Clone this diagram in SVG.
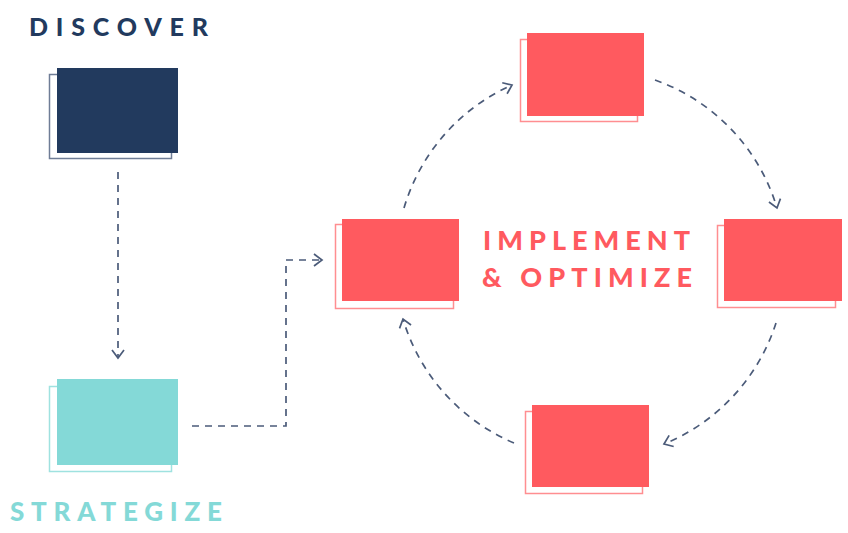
<svg xmlns="http://www.w3.org/2000/svg" width="848" height="533" viewBox="0 0 848 533">
<defs>
<style>
.lbl{font-family:"Lato","Liberation Sans",sans-serif;font-weight:900;}
.con{fill:none;stroke:#4b5b79;stroke-width:1.7;stroke-dasharray:7 6;}
.navy{fill:#223a5e}
.navyo{fill:#fff;stroke:#6f7d96;stroke-width:1.5}
.teal{fill:#84d9d7}
.tealo{fill:#fff;stroke:#9fe2e0;stroke-width:1.5}
.red{fill:#ff5a5f}
.redo{fill:#fff;stroke:#ff8e91;stroke-width:1.5}
</style>
<marker id="arr" markerWidth="11" markerHeight="14" refX="9" refY="7" orient="auto" markerUnits="userSpaceOnUse">
<path d="M1,1 L9,7 L1,13" fill="none" stroke="#4b5b79" stroke-width="1.7"/>
</marker>
</defs>
<rect width="848" height="533" fill="#fff"/>

<g id="discover">
<text class="lbl" x="29" y="36" font-size="25" fill="#223a5e" textLength="179" lengthAdjust="spacing">DISCOVER</text>
<rect class="navyo" x="49.5" y="74.5" width="122" height="84"/>
<rect class="navy" x="57" y="68" width="121" height="85"/>
</g>

<g id="strategize">
<rect class="tealo" x="49.5" y="386.5" width="122" height="85"/>
<rect class="teal" x="57" y="379" width="121" height="86"/>
<text class="lbl" x="10" y="521" font-size="26" fill="#84d9d7" textLength="212" lengthAdjust="spacing">STRATEGIZE</text>
</g>

<g id="implement-left">
<rect class="redo" x="335.5" y="224.5" width="118" height="84"/>
<rect class="red" x="342" y="219" width="117" height="82"/>
</g>

<g id="implement-top">
<rect class="redo" x="520.5" y="39.5" width="117" height="82"/>
<rect class="red" x="527" y="33" width="117" height="83"/>
</g>

<g id="implement-right">
<rect class="redo" x="717.5" y="225.5" width="118" height="82"/>
<rect class="red" x="724" y="219" width="118" height="82"/>
</g>

<g id="implement-bottom">
<rect class="redo" x="525.5" y="411.5" width="117" height="82"/>
<rect class="red" x="532" y="405" width="117" height="82"/>
</g>

<g id="implement-label">
<text class="lbl" x="483" y="250" font-size="27" fill="#ff5a5f" textLength="207" lengthAdjust="spacing">IMPLEMENT</text>
<text class="lbl" x="482" y="287" font-size="27" fill="#ff5a5f" textLength="210" lengthAdjust="spacing">&amp; OPTIMIZE</text>
</g>

<g id="connectors">
<path class="con" d="M118,172 L118,358" marker-end="url(#arr)"/>
<path class="con" d="M192,426 L286,426 L286,260 L322,260" marker-end="url(#arr)"/>
<path class="con" d="M404,208 A195,195 0 0 1 512,85" marker-end="url(#arr)"/>
<path class="con" d="M655,80 A195,195 0 0 1 777,208" marker-end="url(#arr)"/>
<path class="con" d="M776,323 A195,195 0 0 1 664,444" marker-end="url(#arr)"/>
<path class="con" d="M514,443 A195,195 0 0 1 403,319" marker-end="url(#arr)"/>
</g>
</svg>
